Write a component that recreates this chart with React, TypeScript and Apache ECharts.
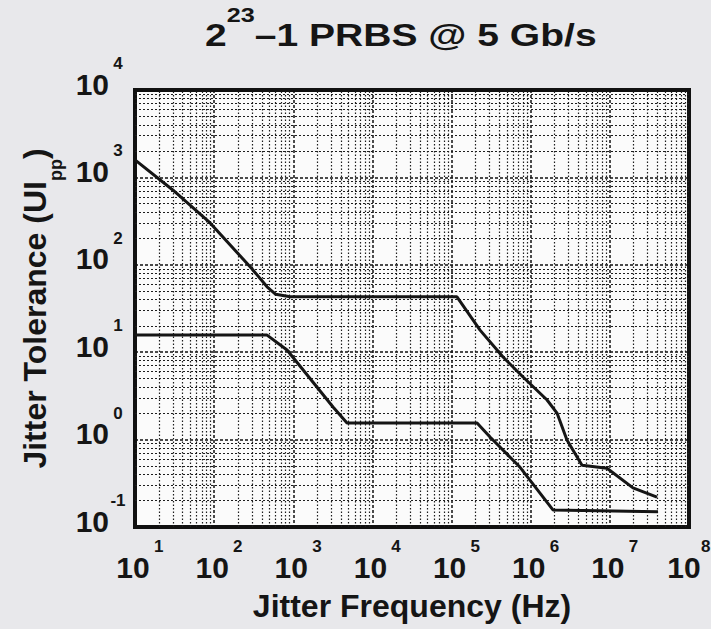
import React, { useEffect, useRef } from "react";
import * as echarts from "echarts";

// Upper curve (jitter tolerance, UIpp) vs jitter frequency (Hz)
const upperFreq = [10, 30, 89, 300, 466, 600, 910, 1.17e5, 2.29e5, 4.47e5, 8.0e5, 1.61e6, 2.15e6, 2.87e6, 4.45e6, 9.2e6, 1.96e7, 3.94e7];
const upperTol = [1585, 718, 301, 90, 56, 46, 43, 43, 17.9, 8.8, 5.2, 2.84, 2.01, 0.99, 0.51, 0.47, 0.28, 0.22];

// Lower curve
const lowerFreq = [10, 466, 834, 3177, 4775, 2.1e5, 3.06e5, 7.3e5, 1.91e6, 4.06e7];
const lowerTol = [15.7, 15.7, 10.6, 2.36, 1.55, 1.55, 1.07, 0.485, 0.157, 0.149];

// Axis ranges and log grid
const xMin = 10;
const xMax = 1e8;
const yMin = 0.1;
const yMax = 1e4;
const xDecades = [10, 100, 1e3, 1e4, 1e5, 1e6, 1e7];
const yDecades = [0.1, 1, 10, 100, 1e3];
const minorMultipliers = [2, 3, 4, 5, 6, 7, 8, 9];

const FONT = "'Liberation Sans', Arial, Helvetica, sans-serif";
const INK = "#151515";

function App() {
  const ref = useRef<HTMLDivElement>(null);
  useEffect(() => {
    if (!ref.current) return;
    const chart = echarts.init(ref.current, undefined, { renderer: "svg" });

    const xMinor: number[] = [];
    xDecades.forEach((d) => minorMultipliers.forEach((m) => xMinor.push(d * m)));
    const yMinor: number[] = [];
    yDecades.forEach((d) => minorMultipliers.forEach((m) => yMinor.push(d * m)));

    const xLabel = (v: number) => {
      const e = Math.round(Math.log10(v));
      if (v >= xMax) return `{e|10}{t|${e}}`;
      return `{b|10}{s|${e}}`;
    };
    const yLabel = (v: number) => {
      const e = Math.round(Math.log10(v));
      return `{b|10}{s|${e}}`;
    };

    const baseTok = { fontSize: 30, fontWeight: "bold", fontFamily: FONT, color: INK, lineHeight: 30 };
    const supTok = { fontSize: 17, fontWeight: "bold", fontFamily: FONT, color: INK, lineHeight: 17, align: "left" };

    const option: any = {
      animation: false,
      backgroundColor: "#e8e8eb",
      graphic: [
        {
          type: "text",
          x: 205,
          y: 12,
          scaleX: 1.26,
          silent: true,
          style: {
            text: "{b|2}{s|23}{b|–1 PRBS @ 5 Gb/s}",
            fill: INK,
            rich: {
              b: { fontSize: 31, fontWeight: "bold", fontFamily: FONT, fill: INK, lineHeight: 31, padding: [15, 0, 0, 0] },
              s: { fontSize: 20, fontWeight: "bold", fontFamily: FONT, fill: INK, lineHeight: 20, padding: [0, 0, 26, 0] },
            },
          },
        },
      ],
      grid: {
        left: 135,
        right: 22,
        top: 90,
        bottom: 102,
        show: true,
        borderColor: "#111",
        borderWidth: 4,
        backgroundColor: "#fbfbfb",
        containLabel: false,
        outerBoundsMode: "none",
      },
      xAxis: {
        type: "log",
        logBase: 10,
        min: xMin,
        max: xMax,
        name: "Jitter Frequency (Hz)",
        nameLocation: "middle",
        nameGap: 63,
        nameTextStyle: { fontSize: 32, fontWeight: "bold", fontFamily: FONT, color: INK },
        axisLine: { show: false },
        axisTick: { show: false },
        axisLabel: {
          margin: 18,
          formatter: xLabel,
          rich: {
            b: { ...baseTok, padding: [14, 0, 0, 14] },
            s: { ...supTok, width: 18, padding: [0, 0, 27, 0] },
            e: { ...baseTok, padding: [14, 0, 0, 0] },
            t: { ...supTok, width: 10, padding: [0, 0, 27, 0] },
          },
        },
        splitLine: { show: true, lineStyle: { color: "#111", width: 1.5, type: [3, 2] } },
      },
      yAxis: {
        type: "log",
        logBase: 10,
        min: yMin,
        max: yMax,
        name: "{n|Jitter Tolerance (UI}{p|pp}{n|)}",
        nameLocation: "middle",
        nameRotate: 90,
        nameGap: 69,
        nameTextStyle: {
          rich: {
            n: { fontSize: 32, fontWeight: "bold", fontFamily: FONT, color: INK, lineHeight: 32, padding: [0, 0, 14, 0] },
            p: { fontSize: 18, fontWeight: "bold", fontFamily: FONT, color: INK, lineHeight: 18, padding: [28, 0, 0, 0] },
          },
        },
        axisLine: { show: false },
        axisTick: { show: false },
        axisLabel: {
          margin: 8,
          formatter: yLabel,
          rich: {
            b: { ...baseTok, padding: [14, 0, 26, 0] },
            s: { ...supTok, width: 18, padding: [0, 0, 53, 0] },
          },
        },
        splitLine: { show: true, lineStyle: { color: "#111", width: 1.5, type: [3, 2] } },
      },
      series: [
        {
          type: "line",
          data: [],
          silent: true,
          z: 1,
          markLine: {
            silent: true,
            symbol: ["none", "none"],
            label: { show: false },
            animation: false,
            lineStyle: { color: "#1e1e1e", width: 1.2, type: [1.5, 2] },
            data: [
              ...xMinor.map((v) => ({ xAxis: v })),
              ...yMinor.map((v) => ({ yAxis: v, lineStyle: { color: "#1e1e1e", width: 1.2, type: [2, 2] } })),
            ],
          },
        },
        {
          type: "line",
          z: 5,
          showSymbol: false,
          data: upperFreq.map((f, i) => [f, upperTol[i]]),
          lineStyle: { color: INK, width: 3 },
        },
        {
          type: "line",
          z: 5,
          showSymbol: false,
          data: lowerFreq.map((f, i) => [f, lowerTol[i]]),
          lineStyle: { color: INK, width: 3 },
        },
      ],
    };
    chart.setOption(option);
    return () => chart.dispose();
  }, []);
  return <div ref={ref} style={{ position: "absolute", left: 0, top: 0, width: 711, height: 629 }} />;
}

export default App;
